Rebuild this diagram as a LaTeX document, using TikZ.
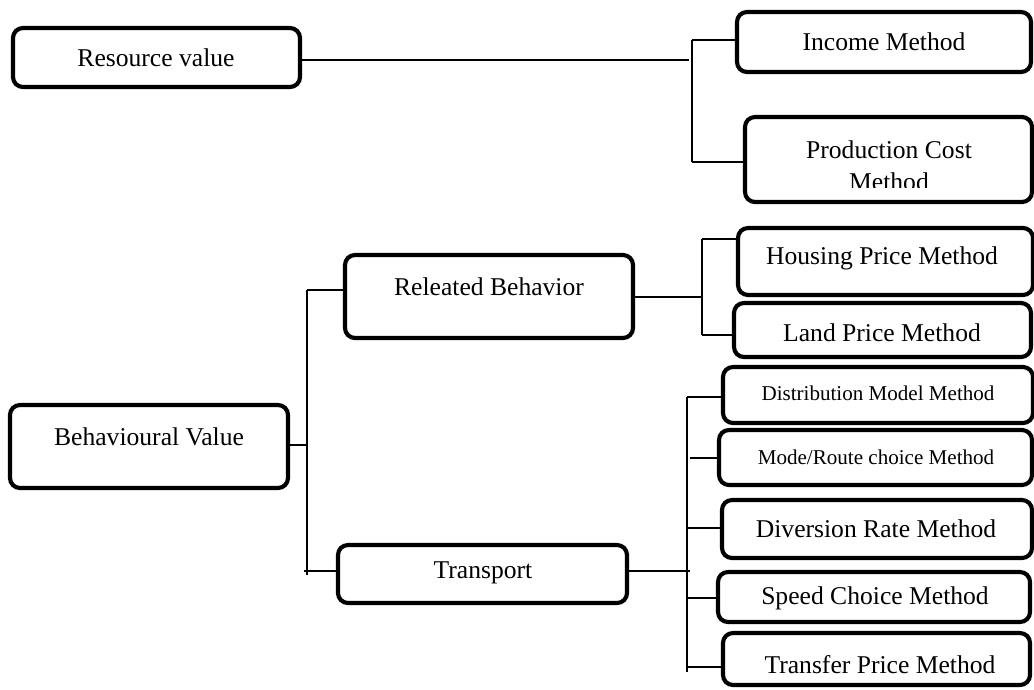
\documentclass[tikz,border=0pt]{standalone}
\usepackage{fontspec}
\setmainfont{Liberation Serif}
\begin{document}
\begin{tikzpicture}[x=0.75pt,y=-0.75pt,
  boxst/.style={draw=black, line width=3.1pt, rounded corners=7.5pt, fill=white, inner sep=0pt},
  lbl/.style={inner sep=0pt, font=\fontsize{19.2}{22}\selectfont},
  lblsmall/.style={inner sep=0pt, font=\fontsize{15.8}{19}\selectfont},
  link/.style={draw=black, line width=1.1pt}]
\useasboundingbox (0,0) rectangle (1034,689);

% box node from its corners: name, x1, y1, x2, y2
\newcommand\pbox[5]{%
  \node[boxst, minimum width={(#4-#2)*0.75pt}, minimum height={(#5-#3)*0.75pt}]
    (#1) at ({(#2+#4)/2},{(#3+#5)/2}) {};}

% ---------- resource value branch ----------
\pbox{res}{13}{28}{300}{87}
\node[lbl] (res-t) at (156,58) {Resource value};
\pbox{inc}{737}{12}{1031}{72}
\node[lbl] (inc-t) at (884,42) {Income Method};
\pbox{prod}{745}{117}{1032}{202}
\node[lbl] (prod-t) at (889,150) {Production Cost};
% the second line overflows the box and is cut off
\begin{scope}
  \clip (745,117) rectangle (1032,187);
  \node[lbl, anchor=base] (prod-t2) at (889,190) {Method};
\end{scope}

\coordinate (rj) at (692,60);
\coordinate (rt) at (692,40);
\coordinate (rb) at (692,162);
\draw[link] (res.east |- rj) -- (689,60);
\draw[link] (rt) -- (rb);
\draw[link] (rt) -- (inc.west |- rt);
\draw[link] (rb) -- (prod.west |- rb);

% ---------- behavioural value branch ----------
\pbox{beh}{10}{405}{288}{488}
\node[lbl] (beh-t) at (149,437) {Behavioural Value};
\pbox{rel}{345}{255}{633}{338}
\node[lbl] (rel-t) at (489,287) {Releated Behavior};
\pbox{trans}{338}{545}{627}{603}
\node[lbl] (trans-t) at (483,573) {Transport};

\coordinate (bt) at (307,290);
\coordinate (bb) at (307,575);
\draw[link] (bt) -- (bb);
\draw[link] (beh.east |- 0,445) -- (307,445);
\draw[link] (bt) -- (rel.west |- bt);
\draw[link] (304,571) -- (trans.west |- 0,571);

% ---------- related behaviour methods ----------
\pbox{house}{738}{228}{1033}{295}
\node[lbl] (house-t) at (882,258) {Housing Price Method};
\pbox{land}{734}{303}{1031}{357}
\node[lbl] (land-t) at (882,333) {Land Price Method};

\coordinate (ht) at (702,239);
\coordinate (hb) at (702,335);
\draw[link] (rel.east |- 0,297) -- (702,297);
\draw[link] (ht) -- (hb);
\draw[link] (ht) -- (house.west |- ht);
\draw[link] (hb) -- (land.west |- hb);

% ---------- transport methods ----------
\pbox{dist}{723}{367}{1033}{423}
\node[lblsmall] (dist-t) at (878,393) {Distribution Model Method};
\pbox{mode}{719}{430}{1032}{485}
\node[lblsmall] (mode-t) at (876,457) {Mode/Route choice Method};
\pbox{div}{722}{500}{1032}{558}
\node[lbl] (div-t) at (876,529) {Diversion Rate Method};
\pbox{speed}{718}{572}{1030}{622}
\node[lbl] (speed-t) at (875,598) {Speed Choice Method};
\pbox{transf}{723}{633}{1030}{685}
\node[lbl] (transf-t) at (880,665) {Transfer Price Method};

\coordinate (tt) at (687,397);
\coordinate (tb) at (687,672);
\draw[link] (trans.east |- 0,571) -- (690,571);
\draw[link] (tt) -- (tb);
\draw[link] (tt) -- (dist.west |- tt);
\draw[link] (690,458) -- (mode.west |- 0,458);
\draw[link] (687,528) -- (div.west |- 0,528);
\draw[link] (687,598) -- (speed.west |- 0,598);
\draw[link] (687,667) -- (transf.west |- 0,667);
\end{tikzpicture}
\end{document}
